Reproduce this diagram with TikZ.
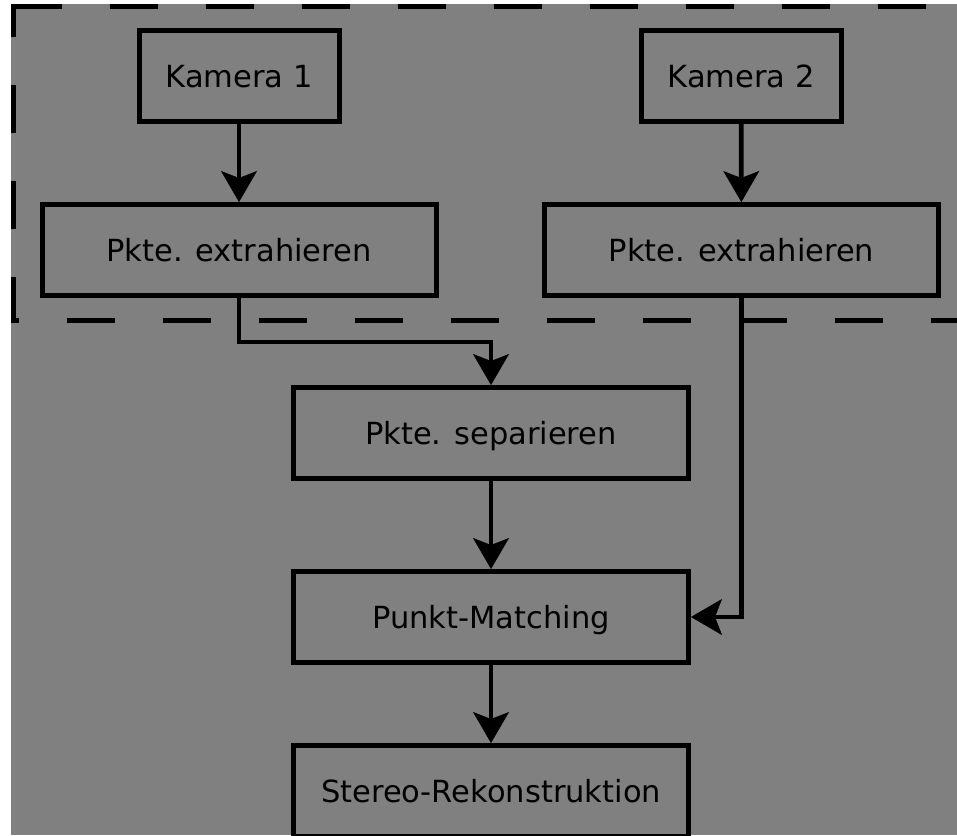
\documentclass[tikz,border=0pt]{standalone}
\usepackage{fontspec}
\setmainfont{DejaVu Sans}
\usetikzlibrary{arrows.meta}
\definecolor{ink}{RGB}{0,0,0}
\definecolor{canvas}{RGB}{128,128,128}

\begin{document}
\begin{tikzpicture}[
  x=1pt,y=-1pt,
  font=\fontsize{30.5}{36}\selectfont,
  flow/.style={-{Stealth[length=31pt,width=36pt,inset=7pt,fill=ink,
               line width=0.5pt]}, draw=ink, line width=4.8pt},
  stage/.style={draw=ink, line width=5pt, text=ink, inner sep=0pt,
                minimum height=91pt, text height=22pt, text depth=0pt},
  frame/.style={draw=ink, line width=5pt, dash pattern=on 48pt off 48pt}
]
\useasboundingbox (0,0) rectangle (957,835);
\fill[canvas] (11,4) rectangle (957,835);

% The camera stage sits in a dashed frame that runs off the right edge.
\draw[frame] (13.5,6.5) -- (965,6.5);
\draw[frame, dash phase=15pt] (13.5,4) -- (13.5,320) -- (965,320);

% Two cameras, each with its own extraction step.
\node[stage, minimum width=200pt] (cam1) at (239,76) {Kamera 1};
\node[stage, minimum width=200pt] (cam2) at (741,76) {Kamera 2};
\node[stage, minimum width=394pt] (extract1) at (239,250) {Pkte. extrahieren};
\node[stage, minimum width=394pt] (extract2) at (741.5,250) {Pkte. extrahieren};

% Shared processing chain below the frame.
\node[stage, minimum width=395pt] (separate) at (491,433) {Pkte. separieren};
\node[stage, minimum width=395pt] (match) at (491,617) {Punkt-Matching};
\node[stage, minimum width=395pt] (recon) at (491,791) {Stereo-Rekonstruktion};

\draw[flow] (cam1) -- (extract1);
\draw[flow] (cam2) -- (extract2);
\draw[flow] (extract1.south) -- ++(0,44) -| (separate.north);
\draw[flow] (extract2.south) |- (match.east);
\draw[flow] (separate) -- (match);
\draw[flow] (match) -- (recon);

\end{tikzpicture}
\end{document}
